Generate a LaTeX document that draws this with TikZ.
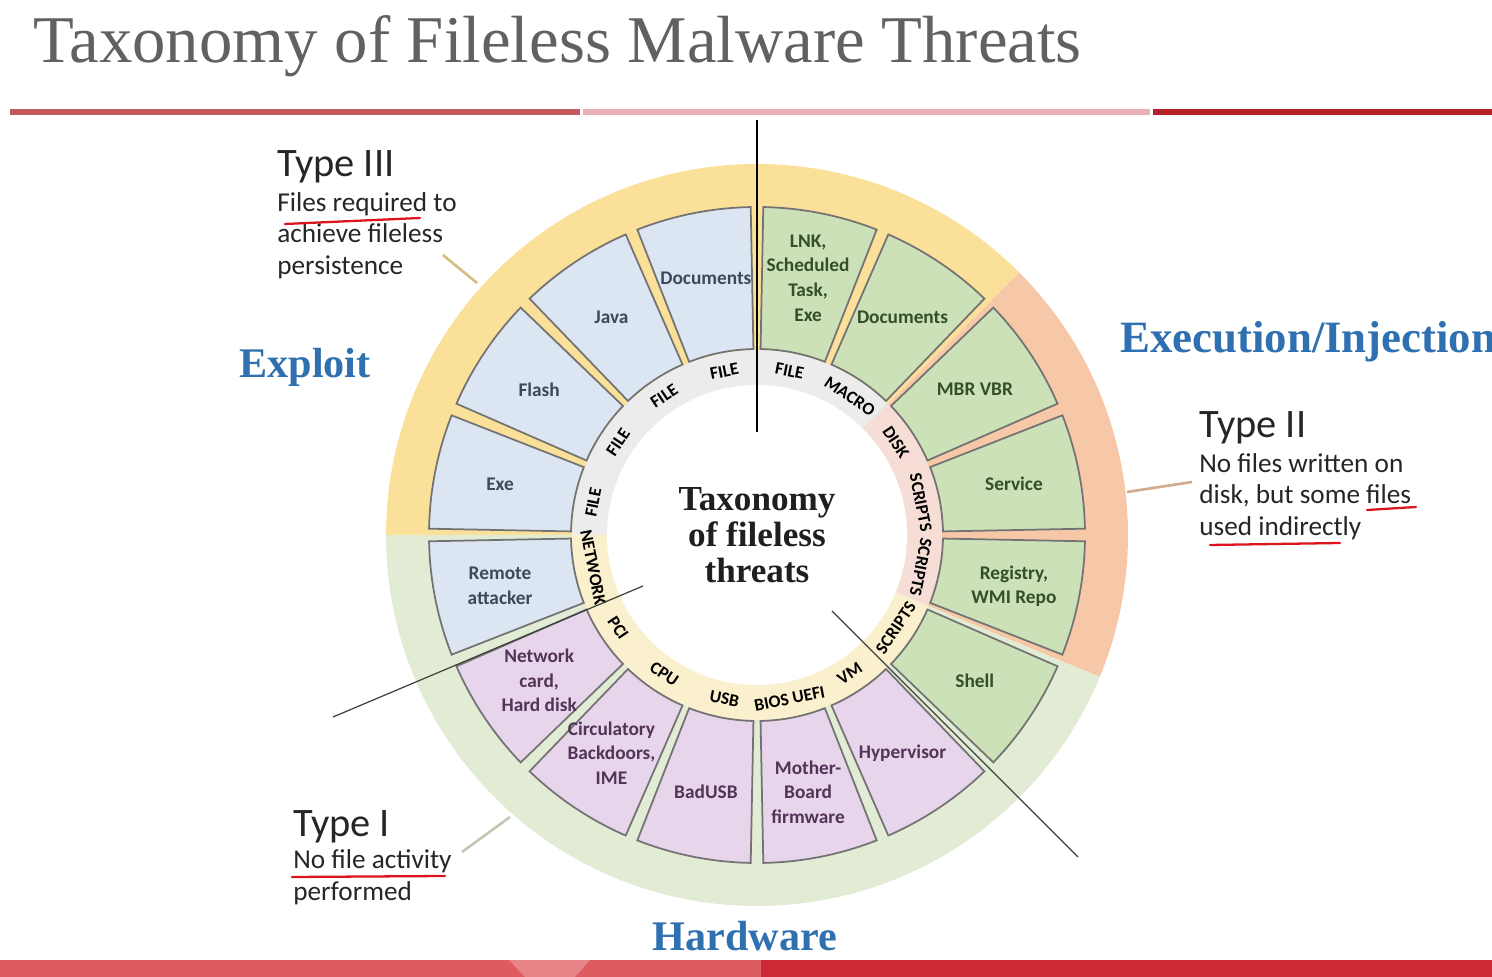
\documentclass[tikz,border=0pt]{standalone}
\usepackage{fontspec}
\setmainfont{Carlito}
\newfontfamily\slideserif{Liberation Serif}
\usepackage{tikz}
\usetikzlibrary{positioning,calc}

\definecolor{ringyellow}{RGB}{250,224,152}
\definecolor{ringsalmon}{RGB}{247,200,168}
\definecolor{ringgreen}{RGB}{226,236,212}
\definecolor{bandgray}{RGB}{236,236,236}
\definecolor{bandpink}{RGB}{246,222,214}
\definecolor{bandyellow}{RGB}{250,240,205}
\definecolor{segblue}{RGB}{220,230,242}
\definecolor{seggreen}{RGB}{205,225,185}
\definecolor{segpurple}{RGB}{231,213,235}
\definecolor{inkblue}{RGB}{62,72,92}
\definecolor{inkgreen}{RGB}{52,78,42}
\definecolor{inkpurple}{RGB}{82,52,88}
\definecolor{headblue}{RGB}{46,112,176}
\definecolor{penred}{RGB}{220,20,30}
\definecolor{ruleleft}{RGB}{196,92,94}
\definecolor{rulemid}{RGB}{232,176,180}
\definecolor{ruleright}{RGB}{178,34,40}
\definecolor{barred}{RGB}{204,43,54}
\definecolor{barrose}{RGB}{222,92,95}

\newcommand{\wheelwedge}[4]{%
  \draw [#2 wedge] (#1+1.1:186) -- (#1+1.1:328)
    arc [start angle=#1+1.1, end angle=#1+21.4, radius=328]
    -- (#1+21.4:186)
    arc [start angle=#1+21.4, end angle=#1+1.1, radius=186] -- cycle;
  \node (#3) [#2 text] at (#1+11.25:262) {#4};
}
\newcommand{\bandword}[4]{%
  \node (#3) [band text,rotate=#2] at (#1:167) {#4};
}

\begin{document}
\begin{tikzpicture}[x=0.02cm,y=0.02cm,
    every node/.style={inner sep=0pt},
    wedge/.style={draw=black!55,line width=1pt},
    exploit wedge/.style={wedge,fill=segblue},
    inject wedge/.style={wedge,fill=seggreen},
    hardware wedge/.style={wedge,fill=segpurple},
    wedge text/.style={font=\bfseries\fontsize{11}{14}\selectfont,align=center},
    exploit text/.style={wedge text,text=inkblue},
    inject text/.style={wedge text,text=inkgreen},
    hardware text/.style={wedge text,text=inkpurple},
    band text/.style={font=\bfseries\fontsize{10}{12}\selectfont},
    type head/.style={font=\fontsize{23}{26}\selectfont,text=black!85,anchor=base west},
    type body/.style={font=\fontsize{15.5}{18}\selectfont,text=black!85,align=left},
    group label/.style={font=\slideserif\bfseries\fontsize{24}{28}\selectfont,text=headblue},
    pen/.style={penred,line width=1.3pt,line cap=round},
    leader/.style={line width=1.5pt},
    pointer/.style={black!75,line width=0.7pt}]
  \useasboundingbox (0,0) rectangle (1492,977);

  \node (title) [anchor=base west,font=\slideserif\fontsize{38}{40}\selectfont,text=black!62] at (33,914) {Taxonomy of Fileless Malware Threats};
  \draw [ruleleft,line width=3.2pt] (10,865) -- (580,865);
  \draw [rulemid,line width=3.2pt] (583,865) -- (1150,865);
  \draw [ruleright,line width=3.2pt] (1153,865) -- (1492,865);

  \begin{scope}[shift={(757,442)}]
    \fill [ringyellow] (0,0) -- (45:371) arc [start angle=45,end angle=180,radius=371] -- cycle;
    \fill [ringsalmon] (0,0) -- (-22.5:371) arc [start angle=-22.5,end angle=45,radius=371] -- cycle;
    \fill [ringgreen] (0,0) -- (180:371) arc [start angle=180,end angle=337.5,radius=371] -- cycle;
    \fill [bandgray] (0,0) -- (45:185) arc [start angle=45,end angle=180,radius=185] -- cycle;
    \fill [bandpink] (0,0) -- (-22.5:185) arc [start angle=-22.5,end angle=45,radius=185] -- cycle;
    \fill [bandyellow] (0,0) -- (180:185) arc [start angle=180,end angle=337.5,radius=185] -- cycle;
    \fill [white] (0,0) circle [radius=150];

    \wheelwedge{90}{exploit}{documents a}{Documents}
    \wheelwedge{112.5}{exploit}{java}{Java}
    \wheelwedge{135}{exploit}{flash}{Flash}
    \wheelwedge{157.5}{exploit}{exe a}{Exe}
    \wheelwedge{180}{exploit}{remote}{Remote\\attacker}
    \wheelwedge{202.5}{hardware}{nic}{Network\\card,\\Hard disk}
    \wheelwedge{225}{hardware}{circulatory}{Circulatory\\Backdoors,\\IME}
    \wheelwedge{247.5}{hardware}{badusb}{BadUSB}
    \wheelwedge{270}{hardware}{firmware}{Mother-\\Board\\firmware}
    \wheelwedge{292.5}{hardware}{hypervisor}{Hypervisor}
    \wheelwedge{315}{inject}{shell}{Shell}
    \wheelwedge{337.5}{inject}{registry}{Registry,\\WMI Repo}
    \wheelwedge{0}{inject}{service}{Service}
    \wheelwedge{22.5}{inject}{mbr}{MBR VBR}
    \wheelwedge{45}{inject}{documents b}{Documents}
    \wheelwedge{67.5}{inject}{lnk}{LNK,\\Scheduled\\Task,\\Exe}

    \bandword{168.75}{78.75}{file a}{FILE}
    \bandword{146.25}{56.25}{file b}{FILE}
    \bandword{123.75}{33.75}{file c}{FILE}
    \bandword{101.25}{11.25}{file d}{FILE}
    \bandword{78.75}{-11.25}{file e}{FILE}
    \bandword{56.25}{-33.75}{macro}{MACRO}
    \bandword{33.75}{-56.25}{disk}{DISK}
    \bandword{11.25}{-78.75}{scripts a}{SCRIPTS}
    \bandword{-11.25}{-101.25}{scripts b}{SCRIPTS}
    \bandword{-33.75}{56.25}{scripts c}{SCRIPTS}
    \bandword{-56.25}{33.75}{vm}{VM}
    \bandword{-78.75}{11.25}{bios}{BIOS UEFI}
    \bandword{-101.25}{-11.25}{usb}{USB}
    \bandword{-123.75}{-33.75}{cpu}{CPU}
    \bandword{-146.25}{-56.25}{pci}{PCI}
    \bandword{-168.75}{-78.75}{network}{NETWORK}

    \node (hub) [font=\slideserif\bfseries\fontsize{20}{20.5}\selectfont,align=center,text=black!88] at (0,0) {Taxonomy\\of fileless\\threats};
  \end{scope}

  \node (exploit) [group label] at (305,610) {Exploit};
  \node (injection) [group label,font=\slideserif\bfseries\fontsize{25.5}{28}\selectfont,anchor=west] at (1120,635) {Execution/Injection};
  \node (hardware) [group label] at (745,41) {Hardware};

  \node (type3 head) [type head] at (277,800) {Type III};
  \node (type3 body) [type body,below right=4.5pt and 0pt of type3 head.south west] {Files required to\\achieve fileless\\persistence};
  \node (type2 head) [type head] at (1199,539) {Type II};
  \node (type2 body) [type body,below right=4.5pt and 0pt of type2 head.south west] {No files written on\\disk, but some files\\used indirectly};
  \node (type1 head) [type head] at (293,140) {Type I};
  \node (type1 body) [type body,below right=3pt and 0pt of type1 head.south west] {No file activity\\performed};

  \draw [pen] (285,753) -- (420,759);
  \draw [pen] (1367,467) -- (1416,470);
  \draw [pen] (1210,432) -- (1340,434);
  \draw [pen] (292,100) -- (445,101);

  \coordinate (type3 tail) at (443,722);
  \coordinate (type3 tip) at (477,694);
  \coordinate (type2 tail) at (1192,495);
  \coordinate (type2 tip) at (1127,485);
  \coordinate (type1 tail) at (462,125);
  \coordinate (type1 tip) at (510,160);
  \draw [leader,ringyellow!85!black] (type3 tail) -- (type3 tip);
  \draw [leader,ringsalmon!85!black] (type2 tail) -- (type2 tip);
  \draw [leader,ringgreen!85!black] (type1 tail) -- (type1 tip);

  \coordinate (cut top) at (757,857);
  \coordinate (cut end) at (757,545);
  \draw [black,line width=0.9pt] (cut top) -- (cut end);
  \draw [pointer] (333,260) -- (643,391);
  \draw [pointer] (832,366) -- (1078,120);

  \fill [barred] (0,0) rectangle (1492,17);
  \fill [barrose] (0,0) rectangle (761,17);
  \fill [white,opacity=0.25] (509,17) -- (590,17) -- (575,0) -- (525,0) -- cycle;
\end{tikzpicture}
\end{document}
